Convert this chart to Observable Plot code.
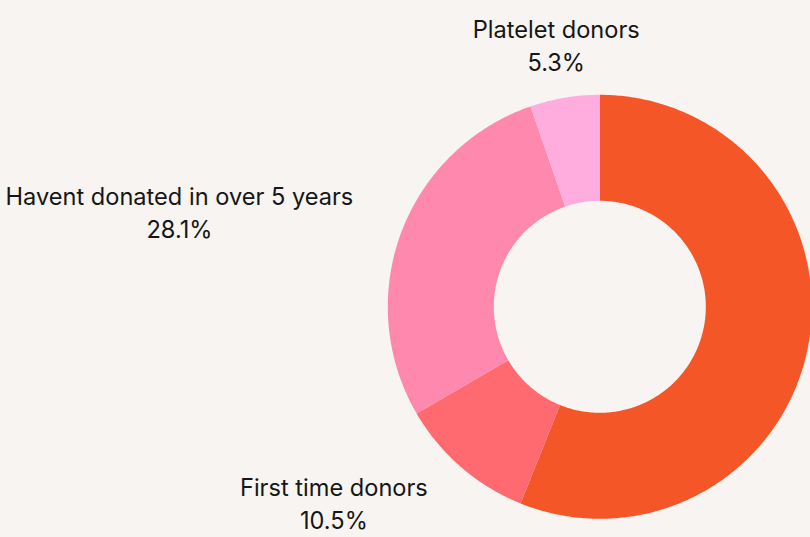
<!DOCTYPE html>
<html>
<head>
<meta charset="utf-8">
<script src="https://cdn.jsdelivr.net/npm/d3@7"></script>
<script src="https://cdn.jsdelivr.net/npm/@observablehq/plot@0.6"></script>
<style>
  html, body { margin: 0; padding: 0; background: #F7F4F1; }
  #chart svg { display: block; }
</style>
</head>
<body>
<div id="chart"></div>
<script>
// Data
const categories = ["Other donors", "First time donors", "Havent donated in over 5 years", "Platelet donors"];
const shares = [56.1, 10.5, 28.1, 5.3];
const showLabel = [false, true, true, true];
const colors = ["#F55627", "#FF6970", "#FF88AE", "#FFADDF"];

const W = 810, H = 537;
const cx = 599.3, cy = 306.3, R = 212;   // layout (pixels)
const inner = 0.5, labelR = 1.24;        // relative to outer radius
const fontSize = 23.6, fontFamily = "Inter, 'Noto Sans', sans-serif";

const rows = categories.map((c, i) => ({name: c, value: shares[i], show: showLabel[i]}));
const pie = d3.pie().value(d => d.value).sort(null)(rows);

// polygon points for each ring slice, in unit (radius) coordinates
const pts = [];
for (const a of pie) {
  const n = Math.max(8, Math.ceil((a.endAngle - a.startAngle) / 0.01));
  for (let k = 0; k <= n; k++) {
    const t = a.startAngle + (a.endAngle - a.startAngle) * k / n;
    pts.push({name: a.data.name, x: Math.sin(t), y: Math.cos(t)});
  }
  for (let k = n; k >= 0; k--) {
    const t = a.startAngle + (a.endAngle - a.startAngle) * k / n;
    pts.push({name: a.data.name, x: inner * Math.sin(t), y: inner * Math.cos(t)});
  }
}

// text measurement for block-style labels (lines centred within the block)
const ctx = document.createElement("canvas").getContext("2d");
ctx.font = `${fontSize}px ${fontFamily}`;

const labels = pie.filter(a => a.data.show).map(a => {
  const m = (a.startAngle + a.endAngle) / 2;
  const sx = Math.sin(m);
  const lines = [a.data.name, d3.format(".1f")(a.data.value) + "%"];
  const wMax = d3.max(lines, l => ctx.measureText(l).width);
  const anchor = Math.abs(sx) < 0.3 ? "middle" : (sx < 0 ? "end" : "start");
  return {
    x: labelR * sx, y: labelR * Math.cos(m),
    text: lines.join("\n"),
    dx: anchor === "middle" ? 0 : (anchor === "end" ? -wMax / 2 : wMax / 2)
  };
});

const chart = Plot.plot({
  width: W, height: H,
  margin: 0,
  style: {background: "#F7F4F1", overflow: "hidden"},
  x: {domain: [-cx / R, (W - cx) / R], range: [0, W], axis: null},
  y: {domain: [cy / R, -(H - cy) / R], range: [0, H], axis: null},
  color: {domain: categories, range: colors},
  marks: [
    Plot.line(pts, {x: "x", y: "y", z: "name", fill: "name", stroke: null, curve: "linear-closed"}),
    ...labels.map(d => Plot.text([d], {
      x: "x", y: "y", text: "text", textAnchor: "middle", dx: d.dx, dy: -4,
      fill: "#161616", fontSize, lineHeight: 33 / fontSize, fontFamily
    }))
  ]
});
document.getElementById("chart").appendChild(chart);
</script>
</body>
</html>
